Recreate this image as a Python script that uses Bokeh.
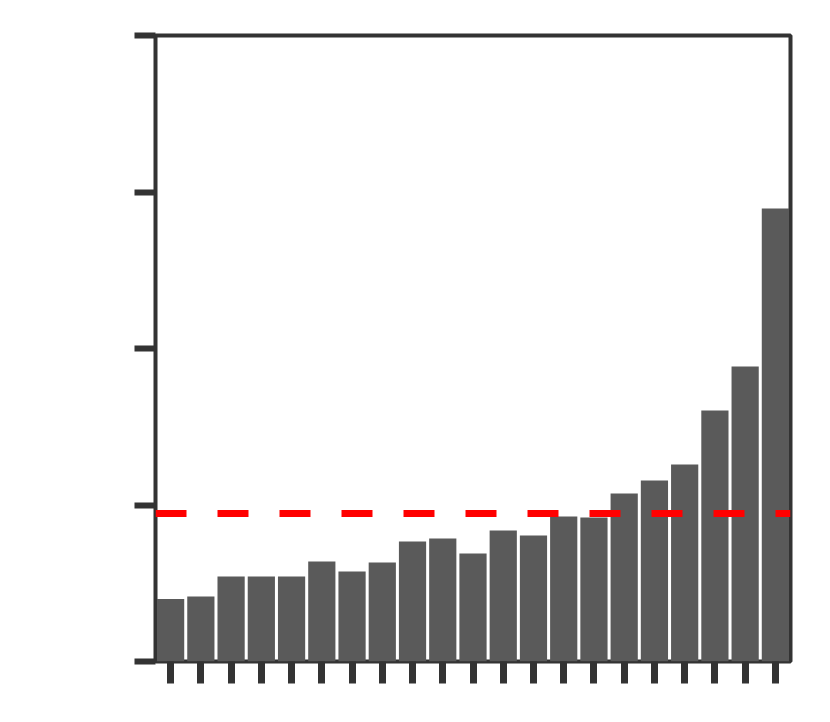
from bokeh.plotting import figure
from bokeh.models import Span, FixedTicker, Range1d
from bokeh.embed import file_html
from bokeh.resources import INLINE

categories = list(range(1, 22))
values = [0.40, 0.415, 0.543, 0.543, 0.543, 0.639, 0.575, 0.633, 0.767, 0.786,
          0.69, 0.837, 0.805, 0.927, 0.92, 1.073, 1.157, 1.259, 1.604, 1.885, 2.895]
threshold = 0.946
y_ticks = [0, 1, 2, 3, 4]

p = figure(output_backend="svg", toolbar_location=None,
           frame_width=635, frame_height=626,
           min_border_left=155, min_border_top=35, min_border_right=20, min_border_bottom=40,
           x_range=Range1d(0.5, 21.5), y_range=Range1d(0, 4))

p.vbar(x=categories, top=values, width=0.9, bottom=0, color="#5a5a5a", line_color=None)

p.add_layout(Span(location=threshold, dimension="width", line_color="#ff0000",
                  line_width=7, line_dash="31 31"))

p.grid.visible = False
p.background_fill_color = "white"
p.border_fill_color = "white"
p.outline_line_color = "#333333"
p.outline_line_width = 4
p.outline_line_alpha = 1.0

for ax in (p.xaxis, p.yaxis):
    ax.axis_line_color = None
    ax.major_tick_line_color = "#333333"
    ax.major_tick_in = 0
    ax.minor_tick_line_color = None
    ax.major_label_text_font_size = "0px"
    ax.major_label_text_color = None

p.yaxis.ticker = FixedTicker(ticks=y_ticks)
p.yaxis.major_tick_out = 21
p.yaxis.major_tick_line_width = 6
p.xaxis.ticker = FixedTicker(ticks=categories)
p.xaxis.major_tick_out = 22
p.xaxis.major_tick_line_width = 7

open("out.html", "w").write(file_html(p, INLINE))
